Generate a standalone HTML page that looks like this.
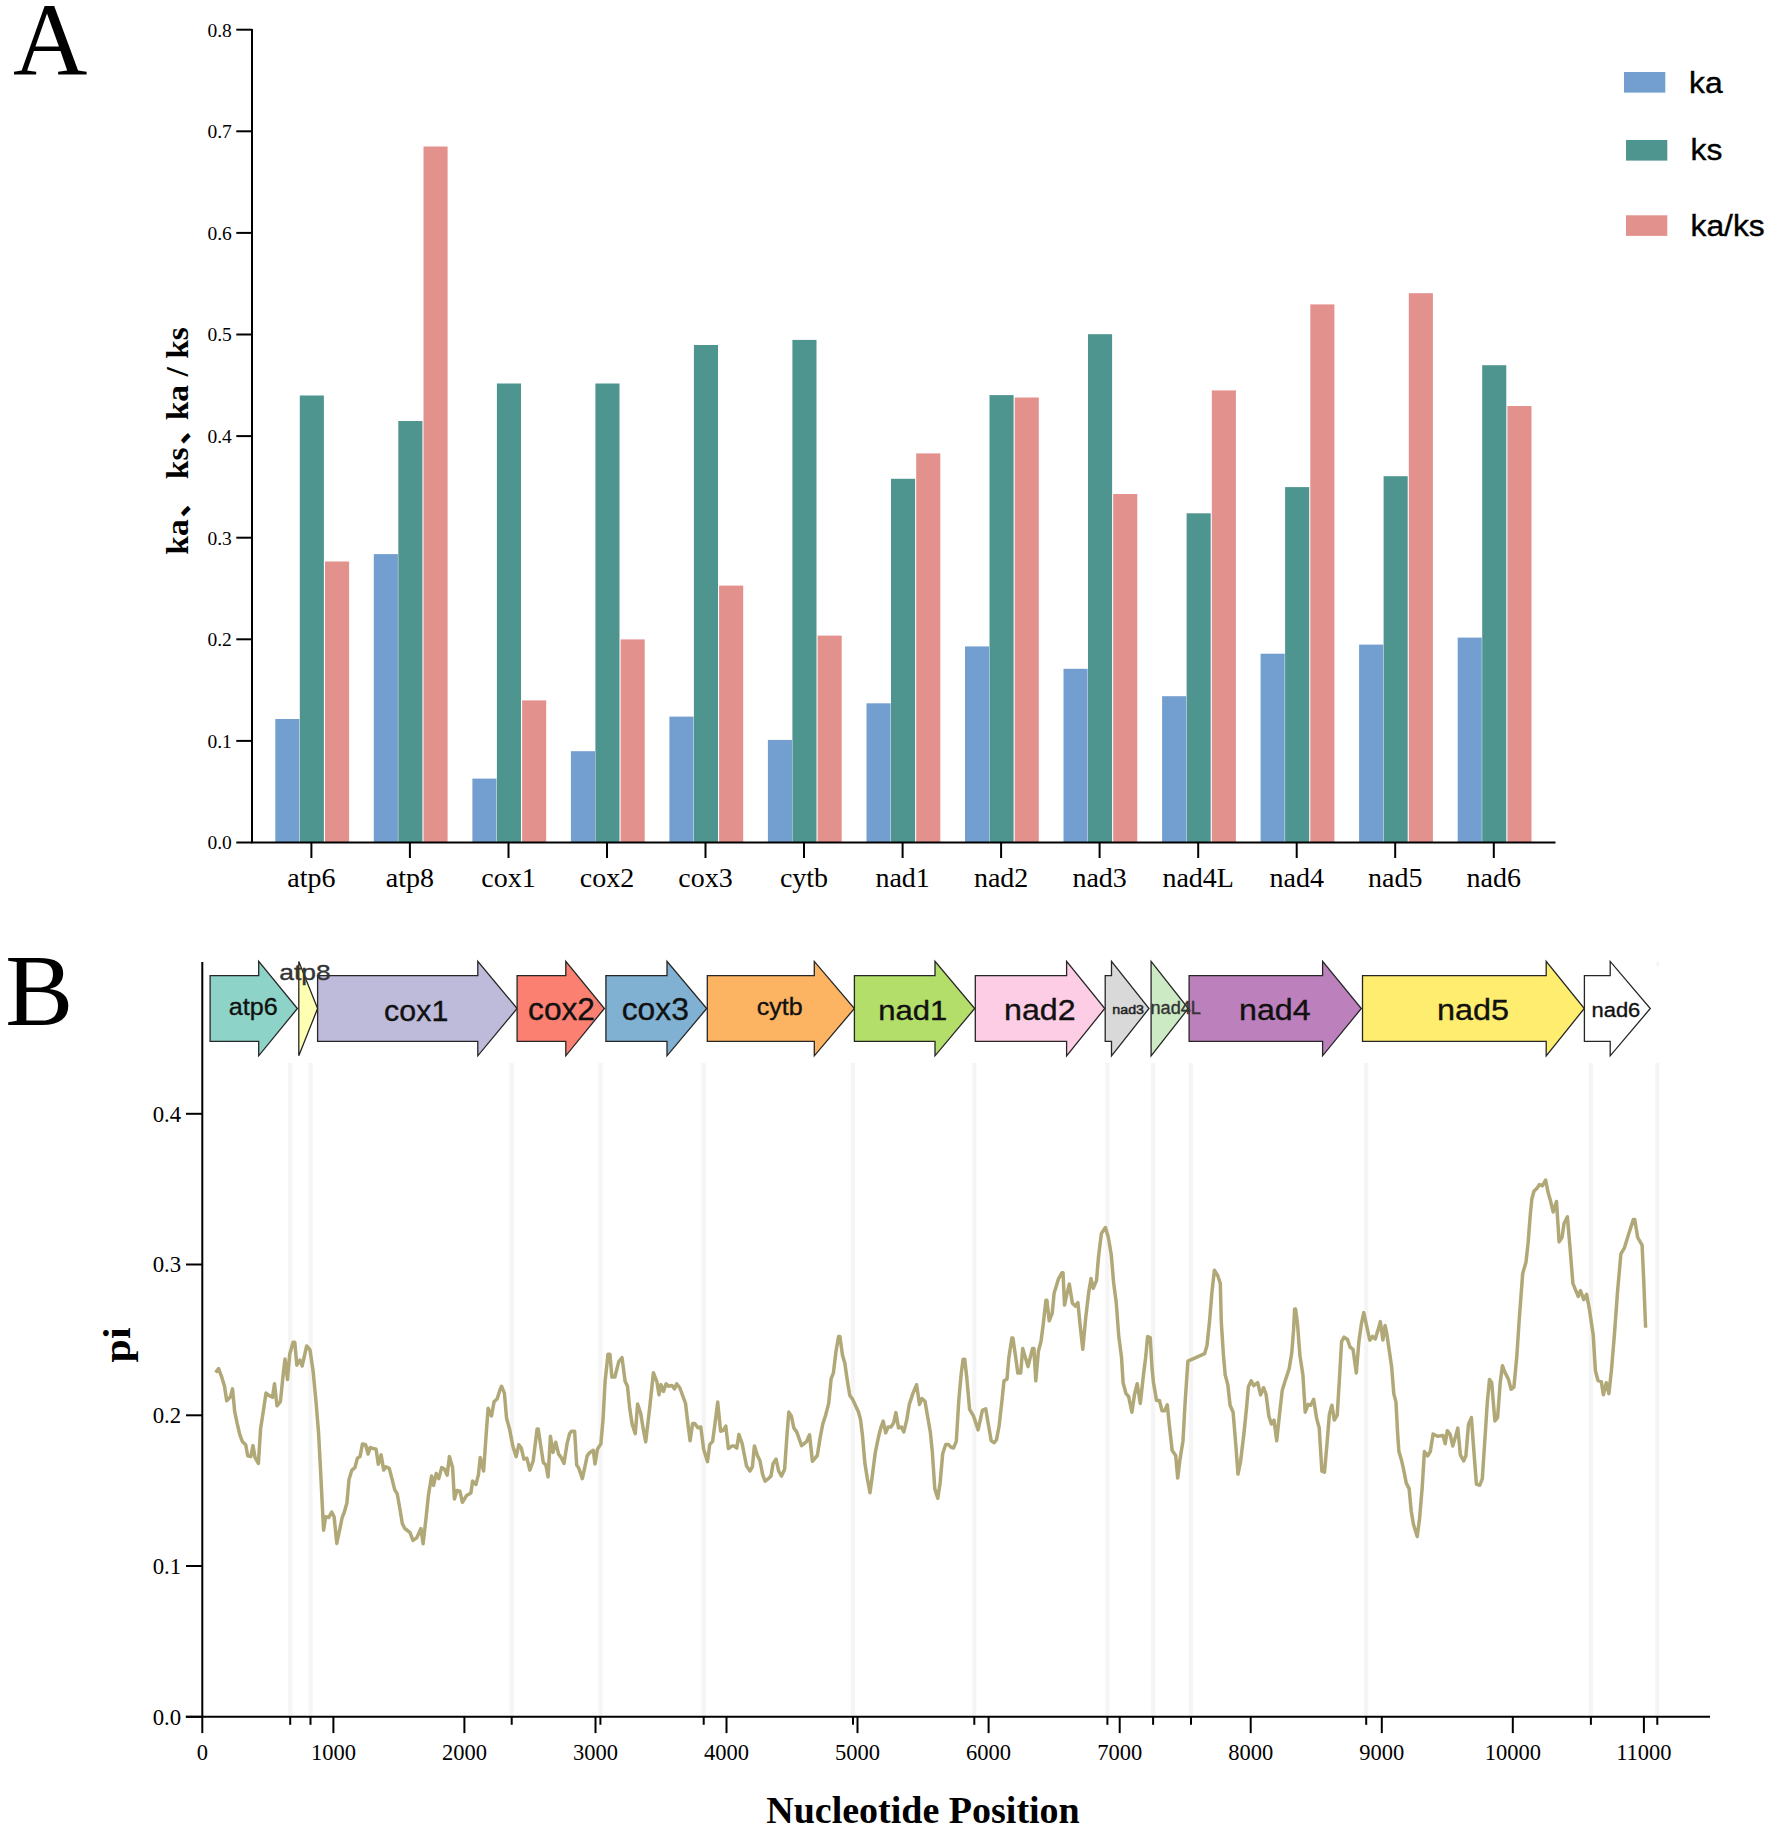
<!DOCTYPE html>
<html lang="en"><head><meta charset="utf-8"><title>Figure: ka, ks, ka/ks and nucleotide diversity</title>
<style>
html,body{margin:0;padding:0;background:#fff;}
body{width:1772px;height:1832px;overflow:hidden;}
svg{display:block;}
.se{font-family:"Liberation Serif","Noto Serif CJK SC",serif;}
.sa{font-family:"Liberation Sans","Noto Sans CJK SC",sans-serif;}
.ax{stroke:#000;stroke-width:2;fill:none;}
.ar{stroke:#262626;stroke-width:1.3;stroke-linejoin:miter;}
.gl{stroke:#f5f5f6;stroke-width:4.2;}
</style></head><body>
<svg width="1772" height="1832" viewBox="0 0 1772 1832">
<rect width="1772" height="1832" fill="#fff"/>
<g id="panelA">
<text class="se" x="13" y="75.2" font-size="103">A</text>
<rect x="275.3" y="719.0" width="24.1" height="123.5" fill="#729fcf"/>
<rect x="299.8" y="395.5" width="24.1" height="447.0" fill="#4f958f"/>
<rect x="325.0" y="561.5" width="24.1" height="281.0" fill="#e3918d"/>
<rect x="373.8" y="554.1" width="24.1" height="288.4" fill="#729fcf"/>
<rect x="398.3" y="421.0" width="24.1" height="421.5" fill="#4f958f"/>
<rect x="423.5" y="146.5" width="24.1" height="696.0" fill="#e3918d"/>
<rect x="472.4" y="778.6" width="24.1" height="63.9" fill="#729fcf"/>
<rect x="496.9" y="383.5" width="24.1" height="459.0" fill="#4f958f"/>
<rect x="522.1" y="700.4" width="24.1" height="142.1" fill="#e3918d"/>
<rect x="570.9" y="751.2" width="24.1" height="91.3" fill="#729fcf"/>
<rect x="595.4" y="383.5" width="24.1" height="459.0" fill="#4f958f"/>
<rect x="620.6" y="639.4" width="24.1" height="203.1" fill="#e3918d"/>
<rect x="669.4" y="716.6" width="24.1" height="125.9" fill="#729fcf"/>
<rect x="693.9" y="345.0" width="24.1" height="497.5" fill="#4f958f"/>
<rect x="719.1" y="585.6" width="24.1" height="256.9" fill="#e3918d"/>
<rect x="767.9" y="739.9" width="24.1" height="102.6" fill="#729fcf"/>
<rect x="792.4" y="339.9" width="24.1" height="502.6" fill="#4f958f"/>
<rect x="817.6" y="635.6" width="24.1" height="206.9" fill="#e3918d"/>
<rect x="866.5" y="703.3" width="24.1" height="139.2" fill="#729fcf"/>
<rect x="891.0" y="478.8" width="24.1" height="363.7" fill="#4f958f"/>
<rect x="916.2" y="453.4" width="24.1" height="389.1" fill="#e3918d"/>
<rect x="965.0" y="646.4" width="24.1" height="196.1" fill="#729fcf"/>
<rect x="989.5" y="395.1" width="24.1" height="447.4" fill="#4f958f"/>
<rect x="1014.7" y="397.5" width="24.1" height="445.0" fill="#e3918d"/>
<rect x="1063.5" y="668.8" width="24.1" height="173.7" fill="#729fcf"/>
<rect x="1088.0" y="334.2" width="24.1" height="508.3" fill="#4f958f"/>
<rect x="1113.2" y="494.0" width="24.1" height="348.5" fill="#e3918d"/>
<rect x="1162.1" y="696.2" width="24.1" height="146.3" fill="#729fcf"/>
<rect x="1186.6" y="513.3" width="24.1" height="329.2" fill="#4f958f"/>
<rect x="1211.8" y="390.4" width="24.1" height="452.1" fill="#e3918d"/>
<rect x="1260.6" y="653.7" width="24.1" height="188.8" fill="#729fcf"/>
<rect x="1285.1" y="487.1" width="24.1" height="355.4" fill="#4f958f"/>
<rect x="1310.3" y="304.4" width="24.1" height="538.1" fill="#e3918d"/>
<rect x="1359.1" y="644.6" width="24.1" height="197.9" fill="#729fcf"/>
<rect x="1383.6" y="476.2" width="24.1" height="366.3" fill="#4f958f"/>
<rect x="1408.8" y="293.2" width="24.1" height="549.3" fill="#e3918d"/>
<rect x="1457.7" y="637.6" width="24.1" height="204.9" fill="#729fcf"/>
<rect x="1482.2" y="365.2" width="24.1" height="477.3" fill="#4f958f"/>
<rect x="1507.4" y="406.0" width="24.1" height="436.5" fill="#e3918d"/>
<path class="ax" d="M252.0 29 V842.5 M251.0 842.5 H1555.5"/>
<path class="ax" d="M236.3 842.5 H252.0"/>
<text class="se" x="231.8" y="849.4" font-size="19.5" text-anchor="end">0.0</text>
<path class="ax" d="M236.3 740.9 H252.0"/>
<text class="se" x="231.8" y="747.8" font-size="19.5" text-anchor="end">0.1</text>
<path class="ax" d="M236.3 639.3 H252.0"/>
<text class="se" x="231.8" y="646.2" font-size="19.5" text-anchor="end">0.2</text>
<path class="ax" d="M236.3 537.7 H252.0"/>
<text class="se" x="231.8" y="544.6" font-size="19.5" text-anchor="end">0.3</text>
<path class="ax" d="M236.3 436.1 H252.0"/>
<text class="se" x="231.8" y="443.0" font-size="19.5" text-anchor="end">0.4</text>
<path class="ax" d="M236.3 334.5 H252.0"/>
<text class="se" x="231.8" y="341.4" font-size="19.5" text-anchor="end">0.5</text>
<path class="ax" d="M236.3 232.9 H252.0"/>
<text class="se" x="231.8" y="239.8" font-size="19.5" text-anchor="end">0.6</text>
<path class="ax" d="M236.3 131.3 H252.0"/>
<text class="se" x="231.8" y="138.2" font-size="19.5" text-anchor="end">0.7</text>
<path class="ax" d="M236.3 29.7 H252.0"/>
<text class="se" x="231.8" y="36.6" font-size="19.5" text-anchor="end">0.8</text>
<path class="ax" d="M311.4 842.5 V858.0"/>
<text class="se" x="311.4" y="887" font-size="28" text-anchor="middle">atp6</text>
<path class="ax" d="M409.9 842.5 V858.0"/>
<text class="se" x="409.9" y="887" font-size="28" text-anchor="middle">atp8</text>
<path class="ax" d="M508.5 842.5 V858.0"/>
<text class="se" x="508.5" y="887" font-size="28" text-anchor="middle">cox1</text>
<path class="ax" d="M607.0 842.5 V858.0"/>
<text class="se" x="607.0" y="887" font-size="28" text-anchor="middle">cox2</text>
<path class="ax" d="M705.5 842.5 V858.0"/>
<text class="se" x="705.5" y="887" font-size="28" text-anchor="middle">cox3</text>
<path class="ax" d="M804.0 842.5 V858.0"/>
<text class="se" x="804.0" y="887" font-size="28" text-anchor="middle">cytb</text>
<path class="ax" d="M902.6 842.5 V858.0"/>
<text class="se" x="902.6" y="887" font-size="28" text-anchor="middle">nad1</text>
<path class="ax" d="M1001.1 842.5 V858.0"/>
<text class="se" x="1001.1" y="887" font-size="28" text-anchor="middle">nad2</text>
<path class="ax" d="M1099.6 842.5 V858.0"/>
<text class="se" x="1099.6" y="887" font-size="28" text-anchor="middle">nad3</text>
<path class="ax" d="M1198.2 842.5 V858.0"/>
<text class="se" x="1198.2" y="887" font-size="28" text-anchor="middle">nad4L</text>
<path class="ax" d="M1296.7 842.5 V858.0"/>
<text class="se" x="1296.7" y="887" font-size="28" text-anchor="middle">nad4</text>
<path class="ax" d="M1395.2 842.5 V858.0"/>
<text class="se" x="1395.2" y="887" font-size="28" text-anchor="middle">nad5</text>
<path class="ax" d="M1493.8 842.5 V858.0"/>
<text class="se" x="1493.8" y="887" font-size="28" text-anchor="middle">nad6</text>
<text class="se" font-size="31.3" font-weight="bold" transform="translate(188.2 554.7) rotate(-90) scale(1.07 1)"><tspan x="0">ka</tspan><tspan x="34.49" dy="-0.5" font-size="31" font-family="Noto Sans CJK SC, sans-serif" font-weight="700">、</tspan><tspan x="70.56" dy="0.5">ks</tspan><tspan x="102.43" dy="-0.5" font-size="31" font-family="Noto Sans CJK SC, sans-serif" font-weight="700">、</tspan><tspan x="125.65" dy="0.5">ka / ks</tspan></text>
<rect x="1624" y="72" width="41.3" height="20.6" fill="#729fcf"/>
<text class="sa" transform="translate(1689.0 92.7) scale(1.06 1)" font-size="30" stroke="#000" stroke-width="0.4">ka</text>
<rect x="1626" y="140" width="41.3" height="20.6" fill="#4f958f"/>
<text class="sa" transform="translate(1690.5 160.4) scale(1.06 1)" font-size="30" stroke="#000" stroke-width="0.4">ks</text>
<rect x="1626" y="215.3" width="41.3" height="20.6" fill="#e3918d"/>
<text class="sa" transform="translate(1690.5 235.8) scale(1.06 1)" font-size="30" stroke="#000" stroke-width="0.4">ka/ks</text>
</g>
<g id="panelB">
<text class="se" x="5.2" y="1025.3" font-size="102">B</text>
<path class="gl" d="M290.2 1063 V1715.5"/>
<path class="gl" d="M310.5 1063 V1715.5"/>
<path class="gl" d="M511.7 1063 V1715.5"/>
<path class="gl" d="M600.4 1063 V1715.5"/>
<path class="gl" d="M703.7 1063 V1715.5"/>
<path class="gl" d="M853 1063 V1715.5"/>
<path class="gl" d="M974.3 1063 V1715.5"/>
<path class="gl" d="M1107.4 1063 V1715.5"/>
<path class="gl" d="M1153.1 1063 V1715.5"/>
<path class="gl" d="M1191 1063 V1715.5"/>
<path class="gl" d="M1366.2 1063 V1715.5"/>
<path class="gl" d="M1590.9 1063 V1715.5"/>
<path class="gl" d="M1657.3 1063 V1715.5"/>
<rect x="1656.5" y="962" width="2.5" height="4" fill="#f4f4f4"/>
<path d="M215.6 1372.5 L218.6 1368.6 L222.0 1377.9 L224.5 1386.3 L226.7 1400.7 L230.5 1396.8 L232.5 1388.9 L234.7 1411.7 L237.2 1423.6 L239.8 1434.6 L242.3 1441.4 L245.7 1444.7 L247.7 1455.7 L250.8 1456.6 L253.0 1445.6 L255.0 1457.4 L258.4 1463.4 L260.6 1428.7 L263.5 1410.0 L266.0 1393.1 L269.4 1395.6 L272.5 1397.3 L274.5 1383.8 L277.0 1405.8 L280.4 1401.6 L283.0 1376.2 L285.0 1358.9 L287.5 1379.6 L289.7 1354.2 L293.1 1342.3 L294.8 1342.3 L296.8 1365.2 L299.9 1360.1 L302.1 1366.0 L306.7 1346.0 L310.0 1349.9 L313.1 1371.1 L316.0 1401.6 L318.5 1432.0 L320.5 1469.3 L322.2 1503.1 L323.6 1530.2 L325.6 1516.7 L328.7 1517.5 L331.7 1512.1 L334.1 1516.7 L336.8 1543.4 L342.2 1517.5 L344.2 1512.5 L346.9 1503.1 L349.0 1479.4 L351.9 1470.1 L354.9 1467.6 L357.4 1458.3 L360.0 1456.6 L362.5 1443.9 L365.6 1444.7 L368.1 1454.1 L370.1 1447.6 L376.1 1449.3 L378.3 1464.2 L381.1 1454.9 L383.7 1470.1 L385.9 1466.8 L389.3 1468.4 L392.1 1479.4 L394.7 1489.6 L397.2 1493.8 L399.8 1508.2 L402.3 1523.5 L404.8 1528.5 L409.9 1532.3 L413.0 1540.4 L416.7 1537.9 L420.9 1528.5 L423.1 1543.8 L426.0 1518.4 L428.5 1494.7 L431.6 1476.1 L433.6 1485.4 L436.2 1473.5 L438.7 1478.6 L441.7 1467.6 L444.6 1469.3 L447.2 1475.2 L449.4 1456.6 L452.6 1467.6 L454.4 1498.9 L457.0 1490.5 L459.9 1491.3 L462.4 1502.3 L466.6 1495.5 L470.9 1493.0 L472.6 1481.1 L475.9 1484.5 L478.5 1474.4 L480.2 1457.4 L483.6 1471.0 L486.1 1435.4 L488.1 1408.3 L491.5 1416.0 L494.1 1401.6 L497.1 1399.0 L500.0 1389.7 L501.5 1386.3 L504.4 1393.1 L506.6 1418.5 L509.5 1428.7 L512.9 1446.4 L516.2 1456.6 L518.8 1444.7 L521.3 1448.1 L523.9 1459.1 L526.9 1458.3 L529.8 1470.1 L533.2 1460.8 L537.1 1429.0 L538.2 1429.0 L543.3 1462.5 L545.9 1465.1 L548.1 1476.9 L550.4 1436.3 L553.0 1452.4 L555.7 1442.2 L558.6 1454.1 L561.1 1457.4 L564.0 1463.4 L567.0 1443.9 L569.6 1433.7 L571.6 1431.2 L574.6 1431.2 L576.7 1465.1 L578.9 1468.4 L582.3 1478.6 L587.3 1455.7 L589.9 1452.4 L593.3 1450.3 L595.0 1463.9 L597.5 1449.0 L600.9 1443.9 L603.1 1418.5 L605.1 1381.3 L608.0 1354.2 L609.9 1354.2 L611.9 1377.0 L614.9 1377.0 L618.7 1361.8 L622.0 1357.6 L625.1 1381.3 L627.5 1386.3 L629.7 1408.3 L632.2 1424.4 L635.3 1433.7 L637.6 1404.1 L640.7 1413.4 L643.2 1428.7 L645.7 1441.9 L650.0 1405.0 L653.4 1372.8 L656.8 1381.3 L659.0 1394.8 L661.0 1384.6 L663.5 1391.4 L666.1 1383.8 L668.6 1386.3 L672.0 1385.5 L674.5 1388.9 L676.7 1383.8 L679.9 1388.0 L683.0 1396.5 L685.5 1403.3 L688.1 1425.3 L690.1 1440.8 L692.6 1423.6 L694.8 1423.6 L697.9 1427.8 L700.8 1427.0 L703.6 1449.0 L707.5 1461.7 L709.7 1444.7 L712.6 1441.4 L715.2 1421.9 L717.7 1402.1 L720.6 1431.2 L723.3 1430.4 L725.8 1426.1 L728.4 1448.6 L732.1 1445.9 L734.1 1445.9 L736.8 1448.1 L738.9 1434.6 L742.2 1443.9 L746.5 1465.9 L749.9 1471.0 L752.4 1466.8 L754.4 1445.9 L757.5 1455.7 L760.0 1460.8 L762.6 1474.4 L765.1 1481.1 L768.5 1478.6 L771.0 1476.1 L773.1 1463.4 L776.1 1459.1 L778.6 1471.0 L781.5 1476.1 L784.6 1469.3 L787.1 1433.7 L788.8 1412.1 L791.4 1416.2 L793.8 1427.9 L796.7 1431.9 L801.6 1445.6 L806.5 1441.7 L809.5 1434.8 L812.4 1461.3 L817.3 1455.5 L820.3 1436.8 L822.8 1424.0 L825.6 1415.2 L828.7 1403.4 L831.1 1378.8 L833.4 1372.9 L836.0 1351.3 L838.6 1336.6 L839.9 1336.6 L842.5 1355.2 L844.8 1363.1 L847.2 1379.8 L849.8 1395.5 L852.7 1399.4 L858.6 1412.2 L860.6 1420.1 L862.5 1435.8 L864.9 1463.3 L867.4 1479.0 L870.0 1492.8 L872.4 1475.1 L875.3 1452.5 L878.3 1437.8 L880.8 1427.9 L883.2 1421.1 L885.7 1432.9 L888.1 1427.0 L891.0 1427.0 L893.6 1423.0 L895.9 1412.6 L898.5 1427.9 L901.4 1427.0 L903.8 1431.9 L906.7 1420.1 L909.3 1404.4 L913.2 1392.6 L916.6 1384.7 L919.5 1404.4 L921.9 1398.5 L925.0 1401.4 L927.4 1415.2 L930.3 1431.9 L932.3 1451.5 L934.8 1488.9 L937.8 1498.3 L940.1 1483.0 L942.7 1453.5 L945.7 1444.6 L948.6 1444.6 L951.0 1447.2 L953.5 1448.0 L956.3 1441.3 L958.8 1400.4 L961.2 1373.9 L963.1 1359.2 L964.7 1359.2 L966.7 1376.9 L969.6 1409.3 L973.6 1416.2 L978.1 1429.9 L982.4 1410.3 L985.7 1408.7 L988.3 1424.0 L991.2 1440.7 L994.2 1442.7 L996.5 1439.7 L999.1 1426.0 L1002.0 1400.4 L1004.0 1380.8 L1007.0 1379.2 L1008.9 1357.2 L1011.9 1337.9 L1012.9 1337.9 L1015.4 1355.2 L1017.8 1372.9 L1020.7 1372.9 L1022.7 1348.4 L1028.0 1366.6 L1032.5 1348.4 L1033.9 1348.4 L1035.8 1380.8 L1038.4 1351.3 L1041.0 1341.5 L1043.3 1323.8 L1045.9 1300.2 L1046.9 1300.2 L1049.2 1320.8 L1052.2 1313.0 L1054.1 1293.3 L1058.6 1278.6 L1062.0 1272.7 L1063.0 1272.7 L1064.5 1305.1 L1067.3 1292.4 L1069.3 1284.1 L1072.4 1303.2 L1075.5 1306.1 L1077.9 1302.6 L1080.2 1325.8 L1082.8 1349.3 L1085.7 1317.9 L1088.7 1292.4 L1091.0 1278.6 L1093.2 1288.4 L1096.5 1280.6 L1098.5 1257.0 L1101.4 1233.4 L1105.4 1227.5 L1108.3 1237.3 L1111.3 1255.0 L1113.6 1282.5 L1116.2 1302.2 L1118.7 1335.6 L1121.5 1357.2 L1123.1 1382.7 L1126.0 1393.6 L1128.6 1396.5 L1131.9 1412.2 L1134.5 1394.5 L1137.2 1383.7 L1140.3 1403.4 L1143.7 1372.9 L1145.7 1357.2 L1147.6 1336.6 L1150.2 1337.6 L1152.1 1369.0 L1153.5 1382.7 L1156.5 1400.4 L1159.4 1400.4 L1162.0 1410.7 L1164.7 1410.7 L1167.3 1404.8 L1169.2 1424.0 L1172.2 1450.5 L1175.7 1455.5 L1177.7 1478.1 L1180.0 1459.4 L1183.0 1440.7 L1185.0 1404.4 L1187.9 1361.1 L1195.8 1357.6 L1204.6 1353.7 L1207.0 1345.4 L1209.5 1321.8 L1211.9 1292.4 L1214.4 1270.3 L1217.8 1275.7 L1220.3 1283.5 L1221.3 1321.8 L1223.3 1353.3 L1225.2 1374.9 L1227.8 1384.7 L1230.1 1405.3 L1233.1 1412.2 L1235.7 1443.7 L1238.0 1474.1 L1240.6 1461.3 L1243.9 1433.8 L1246.5 1408.3 L1248.4 1386.7 L1251.2 1380.8 L1253.7 1385.7 L1257.7 1382.7 L1260.6 1394.9 L1263.6 1387.7 L1266.1 1394.5 L1268.9 1416.2 L1271.4 1424.0 L1274.0 1420.1 L1276.7 1440.7 L1279.3 1416.2 L1282.2 1390.6 L1285.2 1380.8 L1289.1 1369.0 L1291.7 1353.3 L1293.6 1329.7 L1294.6 1309.1 L1295.6 1309.1 L1297.5 1323.8 L1299.9 1355.2 L1302.9 1374.9 L1305.2 1412.2 L1308.2 1404.4 L1310.7 1405.3 L1313.7 1399.4 L1316.6 1418.1 L1319.2 1427.9 L1321.9 1471.2 L1324.5 1472.2 L1327.0 1443.7 L1329.4 1414.2 L1331.9 1405.3 L1334.3 1420.1 L1337.2 1415.2 L1339.2 1382.7 L1341.6 1341.5 L1344.1 1337.2 L1347.5 1339.5 L1350.0 1347.0 L1353.0 1349.3 L1356.3 1372.9 L1358.9 1341.5 L1361.4 1323.8 L1363.8 1312.6 L1366.6 1325.9 L1369.8 1340.1 L1372.7 1336.4 L1375.3 1339.0 L1378.6 1328.1 L1380.3 1321.6 L1382.9 1340.1 L1385.1 1325.5 L1386.6 1332.5 L1389.5 1352.1 L1391.7 1367.4 L1393.8 1393.6 L1396.0 1402.4 L1397.6 1432.9 L1398.9 1451.5 L1401.5 1460.2 L1403.7 1470.0 L1406.3 1483.1 L1409.1 1488.6 L1411.3 1511.5 L1413.5 1524.6 L1417.2 1536.6 L1419.4 1520.3 L1422.2 1487.5 L1424.4 1451.5 L1427.7 1455.9 L1430.3 1451.5 L1433.1 1434.0 L1437.5 1436.2 L1443.0 1435.5 L1445.2 1443.8 L1447.3 1430.7 L1450.0 1434.0 L1452.8 1446.0 L1455.6 1436.2 L1457.8 1428.1 L1460.4 1454.8 L1463.7 1460.9 L1465.9 1455.9 L1468.5 1424.2 L1471.4 1417.6 L1473.5 1446.0 L1476.4 1484.2 L1479.7 1485.3 L1482.3 1478.8 L1484.9 1439.5 L1487.3 1402.4 L1489.5 1379.4 L1491.7 1382.7 L1494.9 1420.9 L1497.6 1417.6 L1500.2 1382.7 L1502.4 1365.7 L1505.2 1372.9 L1508.5 1379.4 L1511.1 1389.3 L1513.9 1387.1 L1516.8 1356.5 L1519.4 1317.2 L1522.7 1273.5 L1525.9 1262.6 L1528.1 1243.0 L1530.3 1214.6 L1531.8 1199.3 L1534.0 1191.0 L1536.9 1188.4 L1539.5 1184.5 L1542.3 1185.8 L1545.6 1180.1 L1548.2 1192.8 L1550.4 1200.4 L1553.2 1212.0 L1556.5 1201.5 L1559.1 1241.9 L1562.0 1237.5 L1564.1 1223.3 L1567.4 1216.8 L1570.0 1247.3 L1572.9 1283.4 L1575.1 1288.8 L1578.3 1296.5 L1580.5 1290.6 L1583.8 1299.7 L1586.6 1294.3 L1589.3 1308.5 L1593.2 1334.7 L1595.4 1370.7 L1598.0 1380.5 L1601.3 1381.6 L1603.4 1394.7 L1606.3 1382.7 L1608.9 1393.6 L1611.5 1369.6 L1614.4 1334.7 L1617.6 1291.0 L1620.9 1253.9 L1624.2 1248.4 L1628.6 1234.2 L1633.4 1219.4 L1634.7 1219.4 L1637.7 1237.5 L1642.1 1245.2 L1643.8 1282.3 L1645.6 1327.7" fill="none" stroke="#b0a877" stroke-width="3.5" stroke-linejoin="round"/>
<path class="ax" d="M202.3 962 V1716.8 M185.8 1716.8 H1710"/>
<path class="ax" d="M186 1716.8 H202.3"/>
<text class="se" x="181.2" y="1724.6" font-size="22.8" text-anchor="end">0.0</text>
<path class="ax" d="M186 1566.0 H202.3"/>
<text class="se" x="181.2" y="1573.8" font-size="22.8" text-anchor="end">0.1</text>
<path class="ax" d="M186 1415.3 H202.3"/>
<text class="se" x="181.2" y="1423.1" font-size="22.8" text-anchor="end">0.2</text>
<path class="ax" d="M186 1264.5 H202.3"/>
<text class="se" x="181.2" y="1272.3" font-size="22.8" text-anchor="end">0.3</text>
<path class="ax" d="M186 1113.8 H202.3"/>
<text class="se" x="181.2" y="1121.6" font-size="22.8" text-anchor="end">0.4</text>
<path class="ax" d="M202.3 1716.8 V1733.1"/>
<text class="se" x="202.3" y="1760.4" font-size="22.5" text-anchor="middle">0</text>
<path class="ax" d="M333.4 1716.8 V1733.1"/>
<text class="se" x="333.4" y="1760.4" font-size="22.5" text-anchor="middle">1000</text>
<path class="ax" d="M464.4 1716.8 V1733.1"/>
<text class="se" x="464.4" y="1760.4" font-size="22.5" text-anchor="middle">2000</text>
<path class="ax" d="M595.5 1716.8 V1733.1"/>
<text class="se" x="595.5" y="1760.4" font-size="22.5" text-anchor="middle">3000</text>
<path class="ax" d="M726.5 1716.8 V1733.1"/>
<text class="se" x="726.5" y="1760.4" font-size="22.5" text-anchor="middle">4000</text>
<path class="ax" d="M857.5 1716.8 V1733.1"/>
<text class="se" x="857.5" y="1760.4" font-size="22.5" text-anchor="middle">5000</text>
<path class="ax" d="M988.6 1716.8 V1733.1"/>
<text class="se" x="988.6" y="1760.4" font-size="22.5" text-anchor="middle">6000</text>
<path class="ax" d="M1119.7 1716.8 V1733.1"/>
<text class="se" x="1119.7" y="1760.4" font-size="22.5" text-anchor="middle">7000</text>
<path class="ax" d="M1250.7 1716.8 V1733.1"/>
<text class="se" x="1250.7" y="1760.4" font-size="22.5" text-anchor="middle">8000</text>
<path class="ax" d="M1381.8 1716.8 V1733.1"/>
<text class="se" x="1381.8" y="1760.4" font-size="22.5" text-anchor="middle">9000</text>
<path class="ax" d="M1512.8 1716.8 V1733.1"/>
<text class="se" x="1512.8" y="1760.4" font-size="22.5" text-anchor="middle">10000</text>
<path class="ax" d="M1643.9 1716.8 V1733.1"/>
<text class="se" x="1643.9" y="1760.4" font-size="22.5" text-anchor="middle">11000</text>
<path class="ax" d="M290.2 1716.8 V1724.8"/>
<path class="ax" d="M310.5 1716.8 V1724.8"/>
<path class="ax" d="M511.7 1716.8 V1724.8"/>
<path class="ax" d="M600.4 1716.8 V1724.8"/>
<path class="ax" d="M703.7 1716.8 V1724.8"/>
<path class="ax" d="M853 1716.8 V1724.8"/>
<path class="ax" d="M974.3 1716.8 V1724.8"/>
<path class="ax" d="M1107.4 1716.8 V1724.8"/>
<path class="ax" d="M1153.1 1716.8 V1724.8"/>
<path class="ax" d="M1191 1716.8 V1724.8"/>
<path class="ax" d="M1366.2 1716.8 V1724.8"/>
<path class="ax" d="M1590.9 1716.8 V1724.8"/>
<path class="ax" d="M1657.3 1716.8 V1724.8"/>
<text class="se" font-size="39" font-weight="bold" transform="translate(129.6 1362.4) rotate(-90) scale(1.075 1)">pi</text>
<text class="se" x="923" y="1823.4" font-size="38" font-weight="bold" text-anchor="middle">Nucleotide Position</text>
<path class="ar" d="M210.1 975.7 H258.7 V961.4 L297.4 1008.5 L258.7 1055.8 V1041.3 H210.1 Z" fill="#8dd3c7" fill-opacity="1"/>
<path class="ar" d="M317.6 975.7 H477.8 V961.4 L517.1 1008.5 L477.8 1055.8 V1041.3 H317.6 Z" fill="#bebada" fill-opacity="1"/>
<path class="ar" d="M298.8 961.4 L317.6 1008.5 L298.8 1055.8 Z" fill="#ffffb3" fill-opacity="1"/>
<path class="ar" d="M517.1 975.7 H565.8 V961.4 L604.4 1008.5 L565.8 1055.8 V1041.3 H517.1 Z" fill="#fb8072" fill-opacity="1"/>
<path class="ar" d="M605.9 975.7 H667 V961.4 L706.7 1008.5 L667 1055.8 V1041.3 H605.9 Z" fill="#80b1d3" fill-opacity="1"/>
<path class="ar" d="M707.3 975.7 H814.3 V961.4 L854.4 1008.5 L814.3 1055.8 V1041.3 H707.3 Z" fill="#fdb462" fill-opacity="1"/>
<path class="ar" d="M854.4 975.7 H935 V961.4 L974.7 1008.5 L935 1055.8 V1041.3 H854.4 Z" fill="#b3de69" fill-opacity="1"/>
<path class="ar" d="M975.3 975.7 H1066.6 V961.4 L1104.8 1008.5 L1066.6 1055.8 V1041.3 H975.3 Z" fill="#fccde5" fill-opacity="1"/>
<path class="ar" d="M1105.2 975.7 H1111.5 V961.4 L1149 1008.5 L1111.5 1055.8 V1041.3 H1105.2 Z" fill="#d9d9d9" fill-opacity="1"/>
<path class="ar" d="M1189.1 975.7 H1322.6 V961.4 L1361.3 1008.5 L1322.6 1055.8 V1041.3 H1189.1 Z" fill="#bc80bd" fill-opacity="1"/>
<path class="ar" d="M1151.1 961.4 L1188.3 1008.5 L1151.1 1055.8 Z" fill="#ccebc5" fill-opacity="1"/>
<path class="ar" d="M1362.5 975.7 H1546.2 V961.4 L1584.3 1008.5 L1546.2 1055.8 V1041.3 H1362.5 Z" fill="#ffed6f" fill-opacity="1"/>
<path class="ar" d="M1584.4 975.7 H1610.2 V961.4 L1650.3 1008.5 L1610.2 1055.8 V1041.3 H1584.4 Z" fill="#ffffff" fill-opacity="1"/>
<text class="sa" transform="translate(253.3 1015.0) scale(1.02 1)" font-size="24.7" fill="#111" stroke="#111" stroke-width="0.35" text-anchor="middle">atp6</text>
<text class="sa" transform="translate(416.2 1020.7) scale(1.02 1)" font-size="29.8" fill="#111" stroke="#111" stroke-width="0.35" text-anchor="middle">cox1</text>
<text class="sa" transform="translate(304.9 979.7) scale(1.2 1)" font-size="22" fill="#333" stroke="#333" stroke-width="0.35" text-anchor="middle">atp8</text>
<text class="sa" transform="translate(561.5 1020.2) scale(1.035 1)" font-size="30.6" fill="#111" stroke="#111" stroke-width="0.35" text-anchor="middle">cox2</text>
<text class="sa" transform="translate(655.3 1020.2) scale(1.04 1)" font-size="30.6" fill="#111" stroke="#111" stroke-width="0.35" text-anchor="middle">cox3</text>
<text class="sa" transform="translate(779.6 1015.0) scale(1.035 1)" font-size="24.2" fill="#111" stroke="#111" stroke-width="0.35" text-anchor="middle">cytb</text>
<text class="sa" transform="translate(912.8 1019.8) scale(1.09 1)" font-size="28.5" fill="#111" stroke="#111" stroke-width="0.35" text-anchor="middle">nad1</text>
<text class="sa" transform="translate(1039.8 1019.8) scale(1.08 1)" font-size="29.8" fill="#111" stroke="#111" stroke-width="0.35" text-anchor="middle">nad2</text>
<text class="sa" transform="translate(1128.2 1014.4) scale(1.055 1)" font-size="13.5" fill="#222" stroke="#222" stroke-width="0.5" text-anchor="middle">nad3</text>
<text class="sa" transform="translate(1274.8 1019.8) scale(1.125 1)" font-size="28.6" fill="#111" stroke="#111" stroke-width="0.35" text-anchor="middle">nad4</text>
<text class="sa" transform="translate(1175.7 1014.4) scale(1.03 1)" font-size="17.6" fill="#333" stroke="#333" stroke-width="0.35" text-anchor="middle">nad4L</text>
<text class="sa" transform="translate(1473.0 1019.8) scale(1.125 1)" font-size="28.8" fill="#111" stroke="#111" stroke-width="0.35" text-anchor="middle">nad5</text>
<text class="sa" transform="translate(1615.9 1016.6) scale(1.06 1)" font-size="20.7" fill="#111" stroke="#111" stroke-width="0.35" text-anchor="middle">nad6</text>
</g>
</svg></body></html>
